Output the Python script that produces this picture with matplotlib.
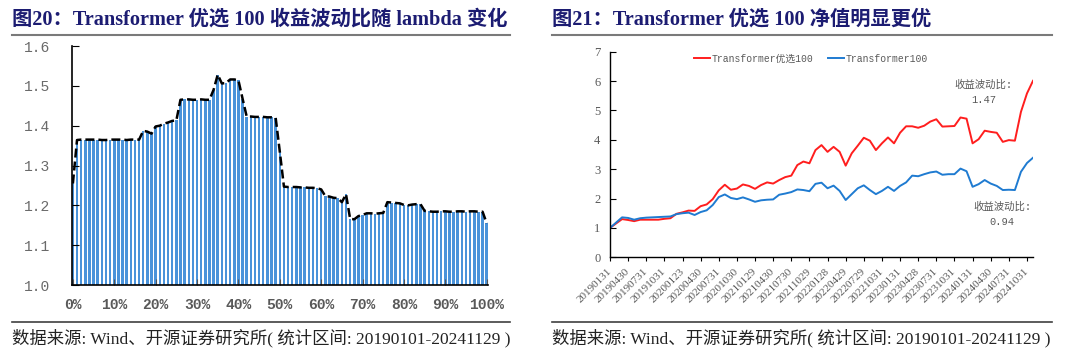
import matplotlib
matplotlib.use('Agg')
import matplotlib.pyplot as plt
from matplotlib.lines import Line2D

# 左图：收益波动比随 lambda 变化
lam_pct = list(range(0, 101))
ratio = [1.255,
         1.364, 1.365, 1.365, 1.365, 1.365, 1.365, 1.364, 1.364,
         1.365, 1.365, 1.365, 1.365, 1.364, 1.365, 1.365, 1.365,
         1.387, 1.385, 1.380, 1.398, 1.400, 1.405, 1.408, 1.412, 1.413,
         1.465, 1.466, 1.466, 1.465, 1.465, 1.466, 1.465, 1.465,
         1.490, 1.528, 1.506, 1.507, 1.516, 1.516, 1.514, 1.468,
         1.423, 1.423, 1.422, 1.422, 1.422, 1.421, 1.421, 1.420,
         1.335,
         1.247, 1.246, 1.246, 1.246, 1.245, 1.245, 1.244, 1.244, 1.243,
         1.240, 1.223, 1.222, 1.219, 1.218, 1.208, 1.228, 1.166, 1.165,
         1.173, 1.176, 1.180, 1.180, 1.179, 1.180, 1.181,
         1.208, 1.207, 1.206, 1.205, 1.201, 1.200, 1.202, 1.203, 1.203,
         1.186,
         1.185, 1.184, 1.184, 1.185, 1.185, 1.184, 1.184, 1.185, 1.185,
         1.184, 1.185, 1.185, 1.184, 1.184,
         1.155]

# 右图：月度净值
nav_top = [1.00, 1.15, 1.30, 1.27, 1.23, 1.28, 1.28, 1.28, 1.28, 1.31,
           1.33, 1.48, 1.53, 1.59, 1.58, 1.74, 1.80, 1.98, 2.28, 2.47,
           2.30, 2.34, 2.48, 2.43, 2.33, 2.46, 2.55, 2.51, 2.63, 2.73,
           2.78, 3.14, 3.26, 3.20, 3.65, 3.82, 3.59, 3.76, 3.59, 3.12,
           3.54, 3.80, 4.07, 3.97, 3.65, 3.88, 4.08, 3.88, 4.24, 4.46,
           4.46, 4.41, 4.48, 4.62, 4.70, 4.45, 4.46, 4.47, 4.76, 4.72,
           3.88, 4.02, 4.31, 4.27, 4.24, 3.93, 3.99, 3.97, 4.95, 5.58,
           6.01]
nav_base = [1.00, 1.18, 1.36, 1.34, 1.28, 1.33, 1.35, 1.36, 1.37, 1.38,
            1.39, 1.47, 1.50, 1.52, 1.44, 1.54, 1.60, 1.78, 2.05, 2.14,
            2.02, 1.98, 2.04, 1.97, 1.89, 1.94, 1.96, 1.97, 2.13, 2.17,
            2.22, 2.31, 2.29, 2.25, 2.50, 2.54, 2.35, 2.44, 2.26, 1.95,
            2.15, 2.35, 2.45, 2.29, 2.15, 2.26, 2.40, 2.26, 2.43, 2.55,
            2.78, 2.76, 2.83, 2.89, 2.92, 2.81, 2.83, 2.83, 3.02, 2.93,
            2.40, 2.49, 2.63, 2.51, 2.43, 2.29, 2.30, 2.29, 2.91, 3.21,
            3.39]
date_ticks = ['20190131', '20190430', '20190731', '20191031', '20200123',
              '20200430', '20200731', '20201030', '20210129', '20210430',
              '20210730', '20211029', '20220128', '20220429', '20220729',
              '20221031', '20230131', '20230428', '20230731', '20231031',
              '20240131', '20240430', '20240731', '20241031']
ratio_top = '1.47'
ratio_base = '0.94'

TITLE_FONT = ['Liberation Serif', 'Noto Sans CJK SC']
MONO_FONT = ['Liberation Mono', 'Noto Sans CJK SC']
GREY = '#595959'

fig = plt.figure(figsize=(10.8, 3.6), dpi=100)

# ---------- 左图 ----------
ax1 = fig.add_axes([0.0671, 0.2083, 0.3847, 0.6639])
ax1.bar(lam_pct, ratio, width=0.6, color='#4A93DA', linewidth=0)
ax1.plot(lam_pct, ratio, color='black', lw=1.8, linestyle=(0, (3.6, 1.6)))
ax1.set_ylim(1.0, 1.6)
ax1.set_xlim(-0.1, 100.3)
ax1.set_yticks([1.0, 1.1, 1.2, 1.3, 1.4, 1.5, 1.6])
ax1.set_yticklabels(['%.1f' % v for v in ax1.get_yticks()],
                    family=MONO_FONT, fontsize=10.5, color='#6A6A6A')
ax1.set_xticks(lam_pct[::10])
ax1.set_xticklabels(['%d%%' % v for v in lam_pct[::10]],
                    family=MONO_FONT, fontsize=10.5, color=GREY, fontweight='semibold')
ax1.tick_params(axis='y', direction='in', length=5, pad=16, color='black')
ax1.tick_params(axis='x', direction='in', length=4, pad=9, color='#555555')
for s in ['top', 'right']:
    ax1.spines[s].set_visible(False)
for s in ['left', 'bottom']:
    ax1.spines[s].set_color('black')
    ax1.spines[s].set_linewidth(1.2)

# ---------- 右图 ----------
ax2 = fig.add_axes([0.5648, 0.2853, 0.3917, 0.5711])
idx = list(range(len(nav_top)))
ax2.plot(idx, nav_top, color='#FF1E1E', lw=1.4, label='Transformer优选100')
ax2.plot(idx, nav_base, color='#1F7BD1', lw=1.4, label='Transformer100')
ax2.set_xlim(0, len(nav_top) - 1)
ax2.set_ylim(0, 7)
ax2.set_yticks(range(0, 8))
ax2.set_yticklabels([str(v) for v in range(0, 8)], family='Liberation Serif',
                    fontsize=9, color=GREY)
tick_pos = idx[::3]
ax2.set_xticks(tick_pos)
ax2.set_xticklabels(date_ticks, family='Liberation Serif', fontsize=8, color=GREY,
                    rotation=45, ha='right', va='center', rotation_mode='anchor')
ax2.tick_params(axis='y', direction='in', length=4, pad=7, color='black')
ax2.tick_params(axis='x', direction='out', length=3, pad=6, color='black')
for s in ['top', 'right']:
    ax2.spines[s].set_visible(False)
for s in ['left', 'bottom']:
    ax2.spines[s].set_color('black')
    ax2.spines[s].set_linewidth(1.0)
leg = ax2.legend(loc='center', bbox_to_anchor=(0.475, 0.965), ncol=2, frameon=False,
                 handlelength=1.6, columnspacing=1.5, handletextpad=0.2,
                 prop={'family': MONO_FONT, 'size': 7})
for t in leg.get_texts():
    t.set_color(GREY)
ax2.text(61.8, 5.62, '收益波动比:\n' + ratio_top, ha='center', va='center',
         family=MONO_FONT, fontsize=7.5, color=GREY, linespacing=1.6)
ax2.text(64.9, 1.46, '收益波动比:\n' + ratio_base, ha='center', va='center',
         family=MONO_FONT, fontsize=7.5, color=GREY, linespacing=1.6)

# ---------- 标题、来源与分隔线 ----------
fig.text(12 / 1080, 1 - 20 / 360, '图20：Transformer 优选 100 收益波动比随 lambda 变化',
         family=TITLE_FONT, fontweight='bold', fontsize=14.6, color='#1C1C72',
         ha='left', va='center')
fig.text(552 / 1080, 1 - 20 / 360, '图21：Transformer 优选 100 净值明显更优',
         family=TITLE_FONT, fontweight='bold', fontsize=14.6, color='#1C1C72',
         ha='left', va='center')
src = '数据来源: Wind、开源证券研究所( 统计区间: 20190101-20241129 )'
fig.text(12 / 1080, 1 - 338 / 360, src, family=TITLE_FONT, fontsize=12.5,
         color='#222222', ha='left', va='center')
fig.text(552 / 1080, 1 - 338 / 360, src, family=TITLE_FONT, fontsize=12.5,
         color='#222222', ha='left', va='center')
for x0, x1 in [(12, 510), (552, 1052)]:
    fig.add_artist(Line2D([x0 / 1080, x1 / 1080], [1 - 35 / 360, 1 - 35 / 360],
                          color='#7A7A7A', lw=1.5))
    fig.add_artist(Line2D([x0 / 1080, x1 / 1080], [1 - 322 / 360, 1 - 322 / 360],
                          color='#3F3F3F', lw=1.2))

fig.savefig('out.png', dpi=100)
